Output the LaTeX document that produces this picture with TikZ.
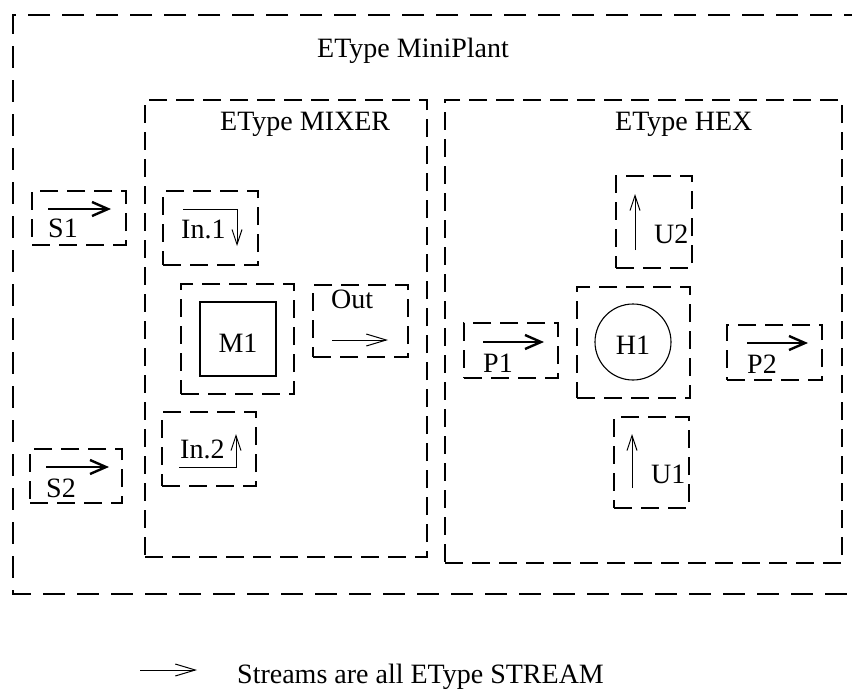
\documentclass[tikz,border=0pt]{standalone}
\usepackage{fontspec}
\setmainfont{Liberation Serif}
\usetikzlibrary{arrows.meta}
\begin{document}
\begin{tikzpicture}[x=1pt,y=-1pt,
  every node/.style={font=\fontsize{28}{32}\selectfont, inner sep=0pt},
  sbox/.style={draw, dash pattern=on 18pt off 9pt, line width=1.1pt},
  label/.style={anchor=base west},
  flow/.style={line width=2.6pt, -{Straight Barb[length=16pt,width=14pt,line width=2.4pt]}},
  thin flow/.style={line width=1pt, -{Straight Barb[length=15pt,width=10pt,line width=1pt]}},
  key flow/.style={line width=1pt, -{Straight Barb[length=20pt,width=12pt,line width=1pt]}}]
\useasboundingbox (0,0) rectangle (852,689);
\clip (0,0) rectangle (852,689);

% plant boundary (open to the right)
\draw[dash pattern=on 22pt off 12pt, line width=1.1pt] (900,15) -- (13,15) -- (13,594) -- (900,594);
\node[label] (plant) at (317,57) {EType MiniPlant};

% mixer and heat exchanger units
\node[sbox, minimum width=282pt, minimum height=457pt] (mixer) at (286,328.5) {};
\node[label] (mixerlabel) at (220,130) {EType MIXER};
\node[sbox, minimum width=397pt, minimum height=463pt] (hex) at (643.5,331.5) {};
\node[label] (hexlabel) at (615,130) {EType HEX};

% plant streams
\node[sbox, minimum width=94pt, minimum height=54pt] (s1) at (79,218) {};
\node[label] (s1l) at (48,237) {S1};
\draw[flow] (48,209) -- (111,209);
\node[sbox, minimum width=92pt, minimum height=54pt] (s2) at (76,476) {};
\node[label] (s2l) at (46,497) {S2};
\draw[flow] (46,467) -- (109,467);

% mixer internals
\node[sbox, minimum width=95pt, minimum height=74pt] (in1) at (210.5,228) {};
\node[label] (in1l) at (181,238) {In.1};
\draw[thin flow] (183,209) -- (237,209) -- (237,246);
\node[sbox, minimum width=113pt, minimum height=110pt] (m1box) at (237.5,339) {};
\node[draw, line width=1.1pt, minimum width=76pt, minimum height=74pt] (m1) at (238,339) {};
\node[anchor=base] (m1l) at (238,352) {M1};
\node[sbox, minimum width=95pt, minimum height=72pt] (out) at (360.5,321) {};
\node[label] (outl) at (331,308) {Out};
\draw[key flow] (332,340) -- (388,340);
\node[sbox, minimum width=94pt, minimum height=74pt] (in2) at (209,449) {};
\node[label] (in2l) at (180,458) {In.2};
\draw[thin flow] (179,467) -- (236,467) -- (236,434);

% heat exchanger internals
\node[sbox, minimum width=94pt, minimum height=55pt] (p1) at (511,350.5) {};
\node[label] (p1l) at (483,372) {P1};
\draw[flow] (483,342) -- (544,342);
\node[sbox, minimum width=113pt, minimum height=111pt] (h1box) at (633.5,342.5) {};
\node[draw, circle, line width=1.1pt, minimum size=76pt] (h1) at (633,342) {};
\node[anchor=base] (h1l) at (633,354) {H1};
\node[sbox, minimum width=95pt, minimum height=55pt] (p2) at (774.5,352.5) {};
\node[label] (p2l) at (747,373) {P2};
\draw[flow] (747,343) -- (808,343);
\node[sbox, minimum width=76pt, minimum height=92pt] (u2) at (654,222) {};
\node[label] (u2l) at (654,243) {U2};
\draw[thin flow] (635,250) -- (635,194);
\node[sbox, minimum width=75pt, minimum height=91pt] (u1) at (651.5,462.5) {};
\node[label] (u1l) at (651,483) {U1};
\draw[thin flow] (632,488) -- (632,434);

% legend
\draw[key flow] (140,670) -- (197,670);
\node[label] (legend) at (237,683) {Streams are all EType STREAM};
\end{tikzpicture}
\end{document}
